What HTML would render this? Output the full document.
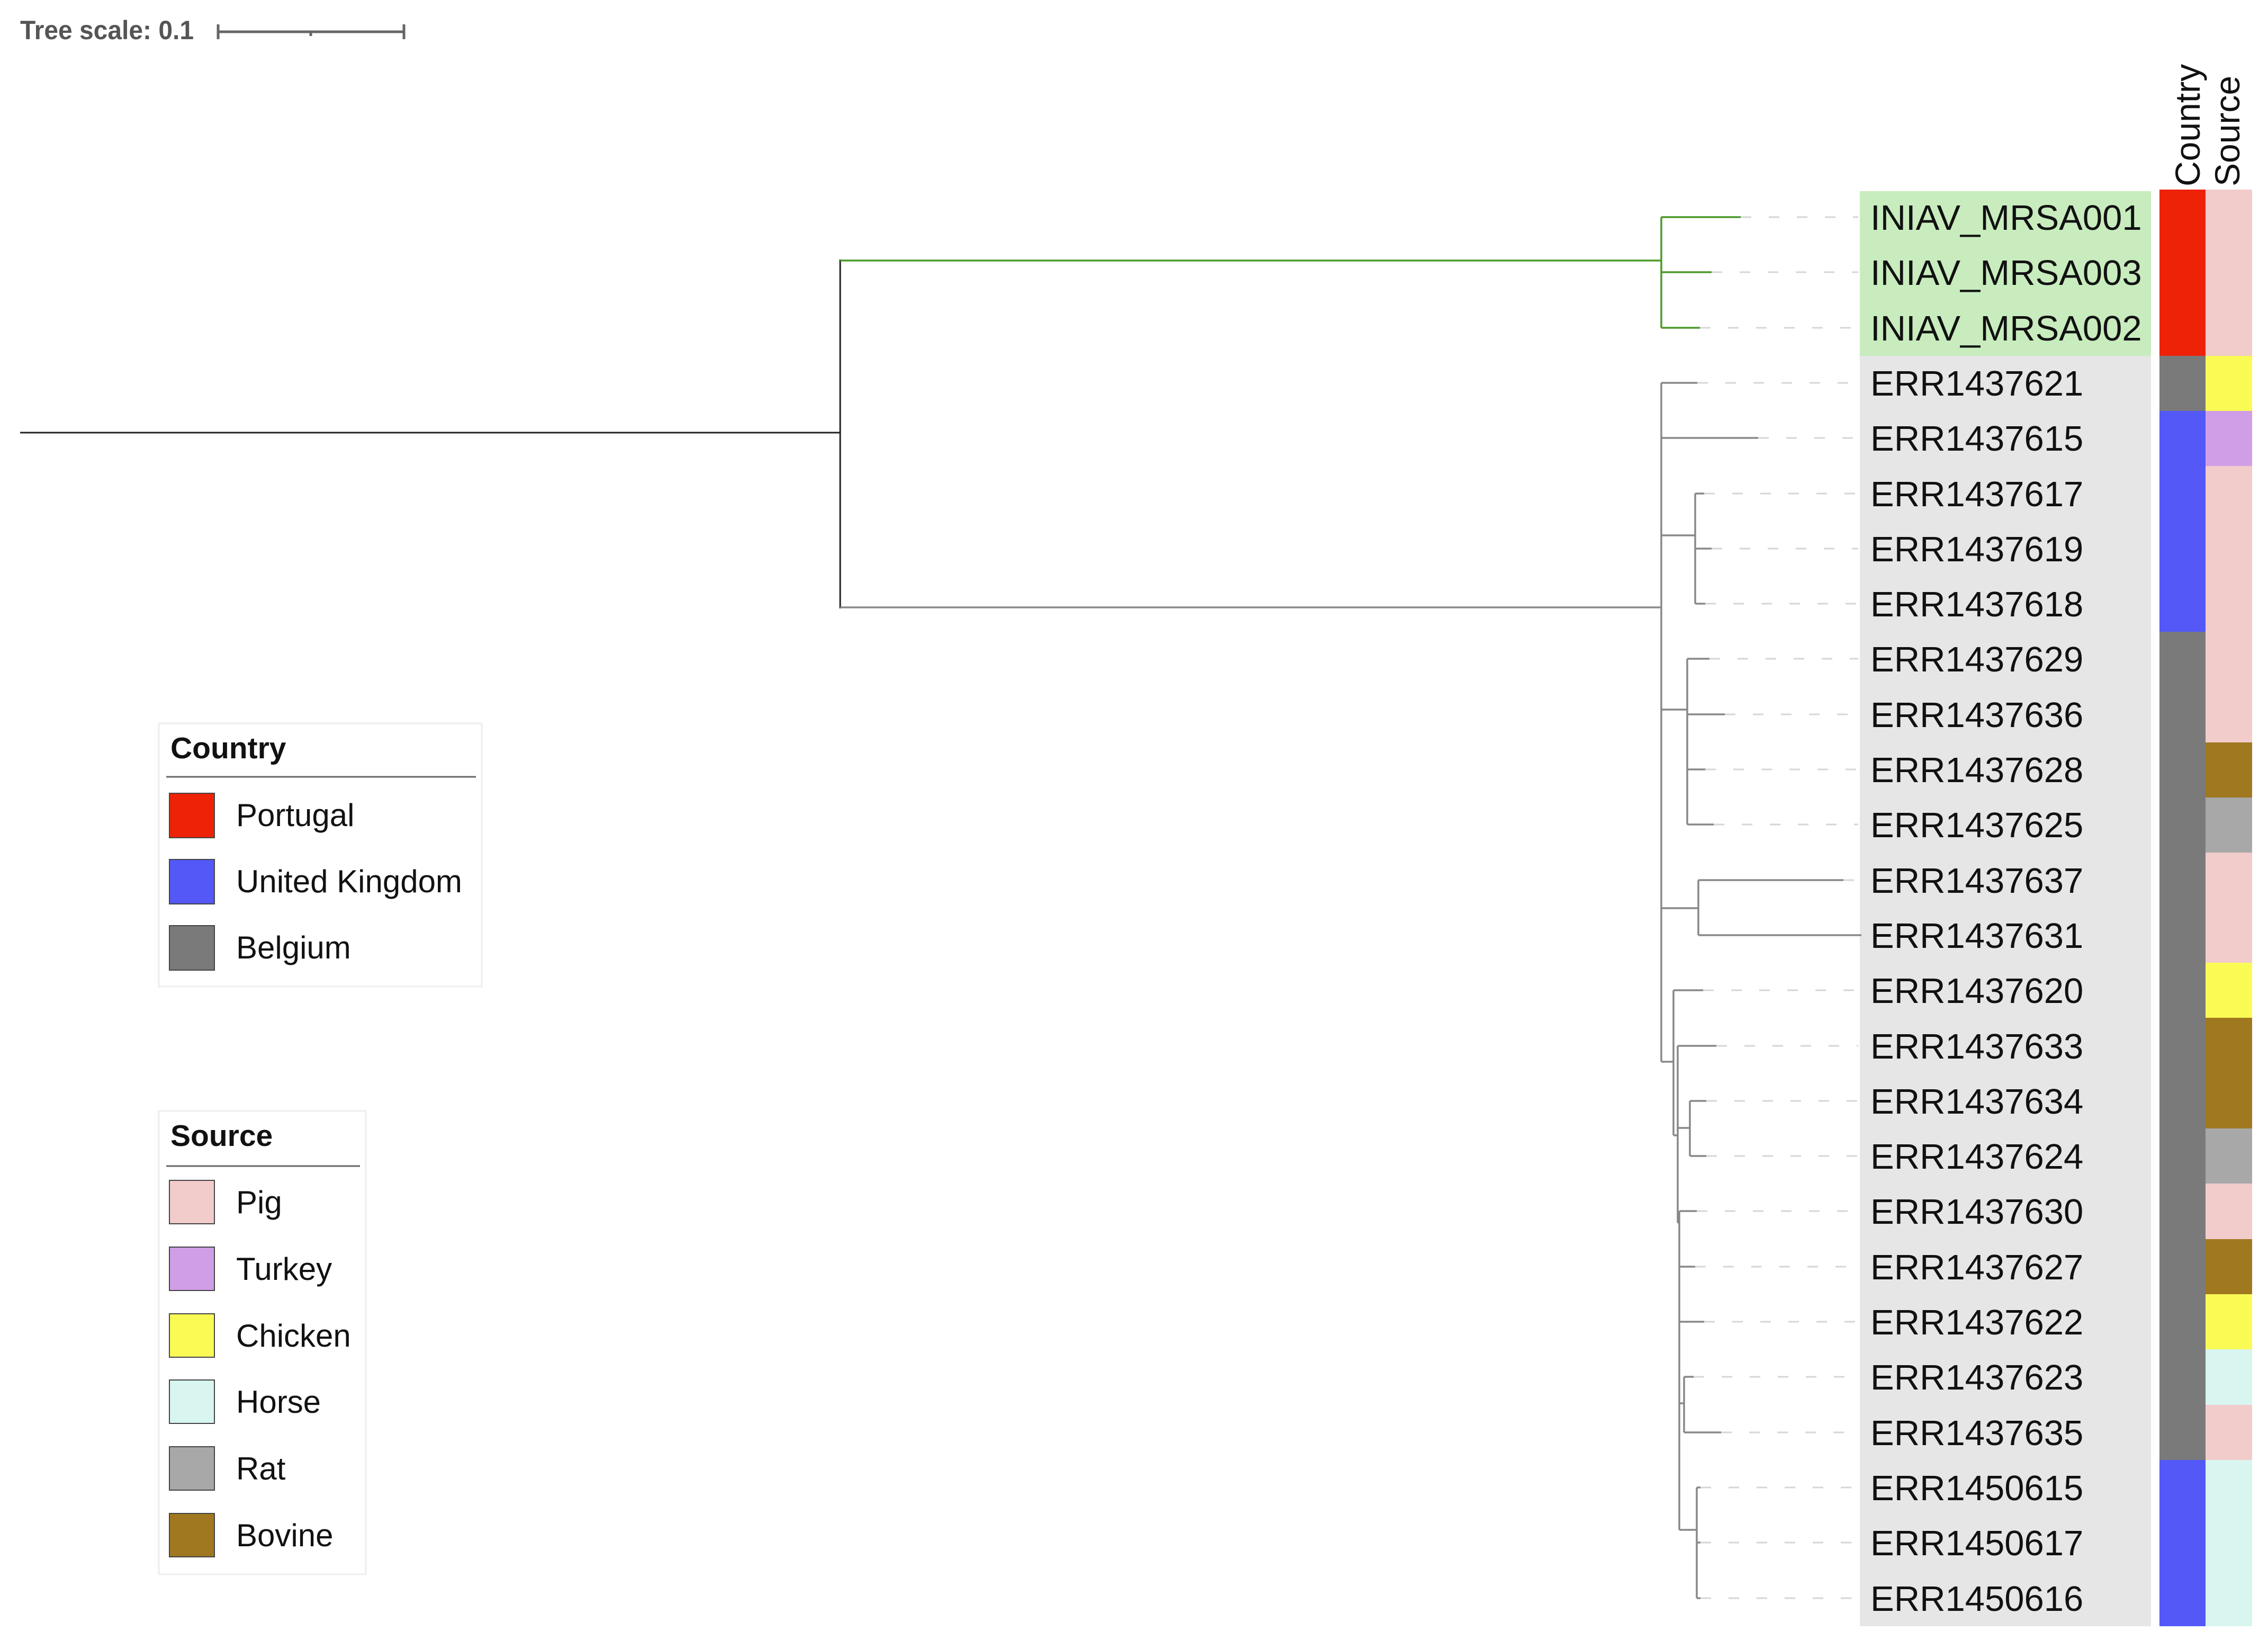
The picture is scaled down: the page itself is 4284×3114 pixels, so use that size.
<!DOCTYPE html>
<html><head><meta charset="utf-8"><style>
html,body{margin:0;padding:0;background:#fff;}
svg{display:block;}
text{font-family:"Liberation Sans",Arial,sans-serif;}
</style></head><body>
<svg width="4284" height="3114" viewBox="0 0 4284 3114" xmlns="http://www.w3.org/2000/svg">
<rect width="4284" height="3114" fill="#fff"/>
<!-- scale -->
<text x="38" y="74" font-size="50" font-weight="bold" fill="#555" textLength="328" lengthAdjust="spacingAndGlyphs">Tree scale: 0.1</text>
<g stroke="#666" stroke-width="5" fill="none">
<path d="M412 60 H763 M412 46 V74 M763 46 V74 M587 60 V68"/>
</g>
<!-- label backgrounds -->
<rect x="3513" y="361" width="550" height="311" fill="#c8ecbe"/>
<rect x="3513" y="672" width="550" height="2399" fill="#e6e6e6"/>
<!-- dashed leaders -->
<g stroke="#d6d6d6" stroke-width="3" stroke-dasharray="20 33" fill="none">
<path d="M3288 410H3510 M3233 514H3510 M3211 619H3510 M3206 723H3510 M3321 827H3510 M3219 932H3510 M3233 1036H3510 M3221 1140H3510 M3229 1244H3510 M3258 1349H3510 M3221 1453H3510 M3237 1557H3510 M3482 1662H3510 M3217 1870H3510 M3242 1975H3510 M3223 2079H3510 M3223 2183H3510 M3205 2287H3510 M3202 2392H3510 M3219 2496H3510 M3199 2600H3510 M3251 2705H3510 M3212 2809H3510 M3212 2913H3510 M3212 3018H3510"/>
</g>
<!-- root -->
<path d="M38 817 H1587 M1587 490 V1149" stroke="#222" stroke-width="3" fill="none"/>
<!-- green clade -->
<path d="M1587 492 H3138 M3138 410 V619 M3138 410 H3288 M3138 514 H3233 M3138 619 H3211" stroke="#4a9a2a" stroke-width="3.5" fill="none"/>
<!-- gray clade -->
<g stroke="#888" stroke-width="3.5" fill="none">
<path d="M1587 1147 H3138 M3138 723 V2005 M3138 723 H3206 M3138 827 H3321"/>
<path d="M3138 1011 H3202 M3202 932 V1140 M3202 932 H3219 M3202 1036 H3233 M3202 1140 H3221"/>
<path d="M3138 1340 H3187 M3187 1244 V1557 M3187 1244 H3229 M3187 1349 H3258 M3187 1453 H3221 M3187 1557 H3237"/>
<path d="M3138 1715 H3208 M3208 1662 V1766 M3208 1662 H3482 M3208 1766 H3516"/>
<path d="M3138 2005 H3161 M3161 1870 V2144 M3161 1870 H3217 M3161 2144 H3169 M3169 1975 V2309 M3169 1975 H3242 M3169 2130 H3192 M3192 2079 V2183 M3192 2079 H3223 M3192 2183 H3223 M3169 2309 H3172 M3172 2287 V2889 M3172 2287 H3205 M3172 2392 H3202 M3172 2496 H3219 M3172 2650 H3181 M3181 2600 V2705 M3181 2600 H3199 M3181 2705 H3251 M3172 2889 H3205 M3205 2809 V3018 M3205 2809 H3212 M3205 2913 H3212 M3205 3018 H3212"/>
</g>
<!-- labels -->
<g font-size="67" fill="#111">
<text x="3533" y="434">INIAV_MRSA001</text>
<text x="3533" y="538">INIAV_MRSA003</text>
<text x="3533" y="643">INIAV_MRSA002</text>
<text x="3533" y="747">ERR1437621</text>
<text x="3533" y="851">ERR1437615</text>
<text x="3533" y="956">ERR1437617</text>
<text x="3533" y="1060">ERR1437619</text>
<text x="3533" y="1164">ERR1437618</text>
<text x="3533" y="1268">ERR1437629</text>
<text x="3533" y="1373">ERR1437636</text>
<text x="3533" y="1477">ERR1437628</text>
<text x="3533" y="1581">ERR1437625</text>
<text x="3533" y="1686">ERR1437637</text>
<text x="3533" y="1790">ERR1437631</text>
<text x="3533" y="1894">ERR1437620</text>
<text x="3533" y="1999">ERR1437633</text>
<text x="3533" y="2103">ERR1437634</text>
<text x="3533" y="2207">ERR1437624</text>
<text x="3533" y="2311">ERR1437630</text>
<text x="3533" y="2416">ERR1437627</text>
<text x="3533" y="2520">ERR1437622</text>
<text x="3533" y="2624">ERR1437623</text>
<text x="3533" y="2729">ERR1437635</text>
<text x="3533" y="2833">ERR1450615</text>
<text x="3533" y="2937">ERR1450617</text>
<text x="3533" y="3042">ERR1450616</text>
</g>
<!-- country column -->
<g>
<rect x="4079" y="358" width="87" height="315" fill="#ee2207"/>
<rect x="4079" y="672" width="87" height="105" fill="#7a7a7a"/>
<rect x="4079" y="776" width="87" height="418" fill="#5358f6"/>
<rect x="4079" y="1193" width="87" height="1565" fill="#7a7a7a"/>
<rect x="4079" y="2757" width="87" height="314" fill="#5358f6"/>
</g>
<!-- source column -->
<g>
<rect x="4166" y="358" width="88" height="315" fill="#f2cbcb"/>
<rect x="4166" y="672" width="88" height="105" fill="#fafa55"/>
<rect x="4166" y="776" width="88" height="105" fill="#d09ee6"/>
<rect x="4166" y="880" width="88" height="523" fill="#f2cbcb"/>
<rect x="4166" y="1402" width="88" height="105" fill="#a07820"/>
<rect x="4166" y="1506" width="88" height="105" fill="#a8a8a8"/>
<rect x="4166" y="1610" width="88" height="210" fill="#f2cbcb"/>
<rect x="4166" y="1818" width="88" height="105" fill="#fafa55"/>
<rect x="4166" y="1922" width="88" height="210" fill="#a07820"/>
<rect x="4166" y="2131" width="88" height="105" fill="#a8a8a8"/>
<rect x="4166" y="2235" width="88" height="105" fill="#f2cbcb"/>
<rect x="4166" y="2340" width="88" height="105" fill="#a07820"/>
<rect x="4166" y="2444" width="88" height="105" fill="#fafa55"/>
<rect x="4166" y="2548" width="88" height="105" fill="#d8f5ef"/>
<rect x="4166" y="2653" width="88" height="105" fill="#f2cbcb"/>
<rect x="4166" y="2757" width="88" height="314" fill="#d8f5ef"/>
</g>
<!-- headers -->
<text transform="translate(4155,352) rotate(-90)" font-size="66" fill="#111">Country</text>
<text transform="translate(4230,352) rotate(-90)" font-size="66" fill="#111">Source</text>
<!-- Country legend -->
<rect x="300" y="1366" width="610" height="497" fill="#fff" stroke="#eee" stroke-width="3"/>
<text x="322" y="1432" font-size="57" font-weight="bold" fill="#111">Country</text>
<path d="M314 1467 H899" stroke="#666" stroke-width="3"/>
<g stroke="#444" stroke-width="2">
<rect x="320" y="1498" width="85" height="84" fill="#ee2207"/>
<rect x="320" y="1623" width="85" height="84" fill="#5358f6"/>
<rect x="320" y="1748" width="85" height="84" fill="#7a7a7a"/>
</g>
<g font-size="60" fill="#111">
<text x="446" y="1560">Portugal</text>
<text x="446" y="1685">United Kingdom</text>
<text x="446" y="1810">Belgium</text>
</g>
<!-- Source legend -->
<rect x="300" y="2098" width="391" height="875" fill="#fff" stroke="#eee" stroke-width="3"/>
<text x="322" y="2164" font-size="57" font-weight="bold" fill="#111">Source</text>
<path d="M314 2202 H680" stroke="#666" stroke-width="3"/>
<g stroke="#444" stroke-width="2">
<rect x="320" y="2229" width="85" height="82" fill="#f2cbcb"/>
<rect x="320" y="2355" width="85" height="82" fill="#d09ee6"/>
<rect x="320" y="2481" width="85" height="82" fill="#fafa55"/>
<rect x="320" y="2606" width="85" height="82" fill="#d8f5ef"/>
<rect x="320" y="2732" width="85" height="82" fill="#a8a8a8"/>
<rect x="320" y="2858" width="85" height="82" fill="#a07820"/>
</g>
<g font-size="60" fill="#111">
<text x="446" y="2291">Pig</text>
<text x="446" y="2417">Turkey</text>
<text x="446" y="2543">Chicken</text>
<text x="446" y="2668">Horse</text>
<text x="446" y="2794">Rat</text>
<text x="446" y="2920">Bovine</text>
</g>
</svg>
</body></html>
